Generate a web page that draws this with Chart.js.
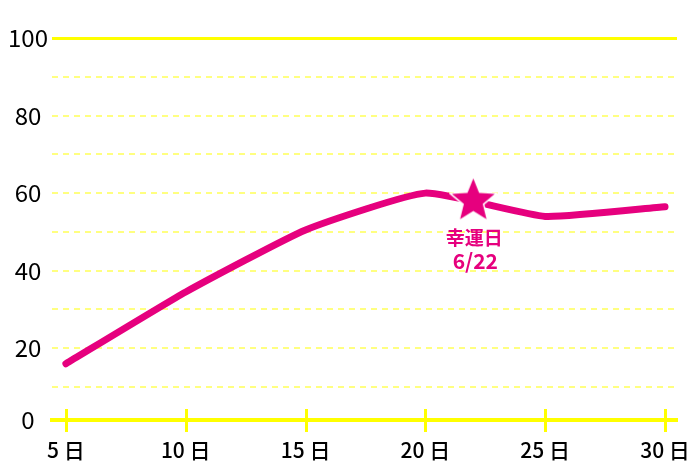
<!DOCTYPE html>
<html><head><meta charset="utf-8">
<script src="https://cdn.jsdelivr.net/npm/chart.js@4/dist/chart.umd.min.js"></script>
<style>html,body{margin:0;padding:0;background:#fff;}canvas{display:block}</style>
</head><body>
<canvas id="c" width="700" height="467"></canvas>
<script>
// ---- data ----
const days = [5, 10, 15, 20, 25, 30];
const scores = [16, 34.5, 50.5, 60, 54, 56.5];
const luckyDay = [22];
const luckyScore = [58];
const luckyLabel = ['幸運日', '6/22'];
const xTickDays = [5, 10, 15, 20, 25, 30];
const yTickValues = [10, 20, 30, 40, 50, 60, 70, 80, 90, 100];
const yLabelValues = [20, 40, 60, 80, 100];

// ---- styles ----
const PINK = '#e6007e';
const YELLOW = '#ffff00';
const PALE = '#ffff80';
const Y_MIN = 1.5;
const FONT = "'Noto Sans CJK JP', 'Liberation Sans', sans-serif";
Chart.defaults.font.family = FONT;

function makeStar(R, ratio) {
  const size = Math.ceil(R * 2 + 4);
  const c = document.createElement('canvas');
  c.width = size; c.height = size;
  const g = c.getContext('2d');
  const cx = size / 2, cy = size / 2;
  g.beginPath();
  for (let i = 0; i < 10; i++) {
    const r = i % 2 === 0 ? R : R * ratio;
    const a = -Math.PI / 2 + i * Math.PI / 5;
    const px = cx + r * Math.cos(a), py = cy + r * Math.sin(a);
    if (i === 0) g.moveTo(px, py); else g.lineTo(px, py);
  }
  g.closePath();
  g.lineWidth = 3; g.strokeStyle = '#fff'; g.lineJoin = 'miter'; g.stroke();
  g.fillStyle = PINK; g.fill();
  return c;
}
const starImg = makeStar(22.5, 0.44);

const decor = {
  id: 'decor',
  beforeDatasetsDraw(chart) {
    const { ctx, scales: { x }, chartArea } = chart;
    ctx.save();
    ctx.strokeStyle = YELLOW;
    ctx.lineWidth = 3;
    x.ticks.forEach(t => {
      const px = Math.round(x.getPixelForValue(t.value)) + 0.5;
      ctx.beginPath();
      ctx.moveTo(px, chartArea.bottom - 11);
      ctx.lineTo(px, chartArea.bottom + 12);
      ctx.stroke();
    });
    ctx.restore();
  },
  afterDatasetsDraw(chart) {
    const { ctx, scales: { x, y } } = chart;
    const px = x.getPixelForValue(luckyDay[0]);
    const py = y.getPixelForValue(luckyScore[0]);
    ctx.save();
    ctx.fillStyle = PINK;
    ctx.textAlign = 'center';
    ctx.textBaseline = 'middle';
    ctx.font = "bold 19px " + FONT;
    ctx.fillText(luckyLabel[0], px + 1, py + 37);
    ctx.font = "bold 21px " + FONT;
    ctx.fillText(luckyLabel[1], px + 2, py + 60);
    ctx.restore();
  }
};

new Chart(document.getElementById('c'), {
  type: 'line',
  data: {
    datasets: [
      {
        data: luckyDay.map((d, i) => ({ x: d, y: luckyScore[i] })),
        showLine: false,
        pointStyle: starImg,
        pointRadius: 22,
        pointHoverRadius: 22
      },
      {
        data: days.map((d, i) => ({ x: d, y: scores[i] })),
        borderColor: PINK,
        borderWidth: 7,
        pointRadius: 0,
        pointHoverRadius: 0,
        tension: 0.15,
        borderCapStyle: 'round',
        borderJoinStyle: 'round',
        fill: false
      }
    ]
  },
  options: {
    responsive: false,
    animation: false,
    devicePixelRatio: 1,
    layout: { padding: { top: 38, right: 21, left: 0, bottom: 0 } },
    plugins: { legend: { display: false }, tooltip: { enabled: false } },
    scales: {
      x: {
        type: 'linear',
        min: 4.42,
        max: 30.5,
        afterBuildTicks: s => { s.ticks = xTickDays.map(v => ({ value: v })); },
        afterFit: s => { s.height = 47; s.paddingLeft = 0; s.paddingRight = 0; },
        ticks: {
          padding: 17, color: '#000', autoSkip: false, maxRotation: 0,
          font: { size: 21, weight: '500' },
          callback: v => v + ' 日'
        },
        grid: { drawOnChartArea: false, drawTicks: false },
        border: { display: true, color: YELLOW, width: 4 }
      },
      y: {
        type: 'linear',
        min: Y_MIN,
        max: 100,
        afterBuildTicks: s => { s.ticks = [Y_MIN, ...yTickValues].map(v => ({ value: v })); },
        afterFit: s => { s.width = 52; s.paddingTop = 0; s.paddingBottom = 0; },
        ticks: {
          padding: 4, crossAlign: 'center', color: '#000', autoSkip: false,
          font: { size: 24 },
          callback: v => v === Y_MIN ? '0' : (yLabelValues.includes(v) ? String(v) : '')
        },
        grid: {
          drawTicks: false,
          color: c => {
            const v = c.tick ? c.tick.value : null;
            if (v === Y_MIN) return 'rgba(0,0,0,0)';
            return v === 100 ? YELLOW : PALE;
          },
          lineWidth: c => (c.tick && c.tick.value === 100) ? 3 : 2
        },
        border: {
          display: false,
          dash: c => (c.tick && c.tick.value === 100) ? [] : [6, 5]
        }
      }
    }
  },
  plugins: [decor]
});
</script>
</body></html>
